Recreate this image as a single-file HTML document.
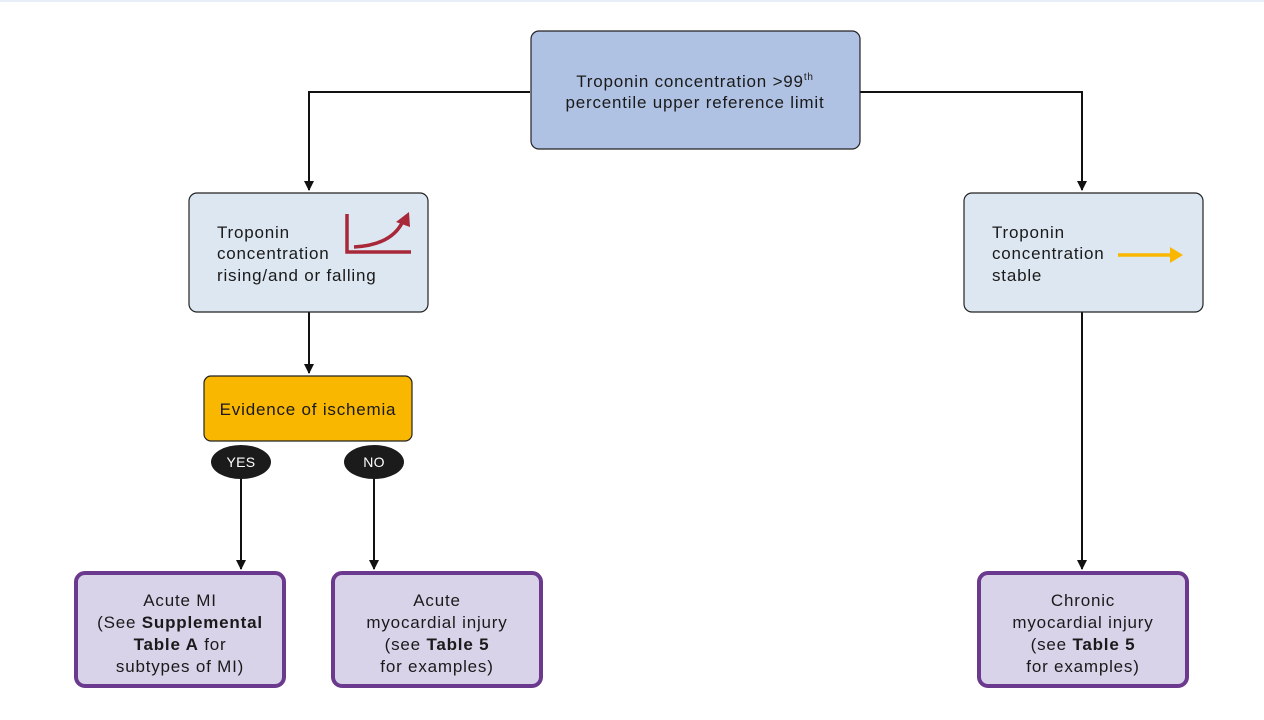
<!DOCTYPE html>
<html><head><meta charset="utf-8"><style>
html,body{margin:0;padding:0;background:#fff;}
svg{display:block;}
text{font-family:"Liberation Sans",sans-serif;font-size:17px;letter-spacing:0.8px;fill:#1a1a1a;}
</style></head><body>
<svg width="1264" height="720" viewBox="0 0 1264 720" xmlns="http://www.w3.org/2000/svg">
<defs><marker id="a" viewBox="0 0 10 10" refX="9" refY="5" markerWidth="5" markerHeight="5" orient="auto"><path d="M0,0L10,5L0,10z" fill="#111"/></marker></defs>
<rect x="0" y="0" width="1264" height="2" fill="#e8eef5"/>
<g stroke="#111" stroke-width="2" fill="none">
<path d="M530,92H309V190" marker-end="url(#a)"/>
<path d="M860,92H1082V190" marker-end="url(#a)"/>
<path d="M309,312V373" marker-end="url(#a)"/>
<path d="M241,470V569" marker-end="url(#a)"/>
<path d="M374,470V569" marker-end="url(#a)"/>
<path d="M1082,312V569" marker-end="url(#a)"/>
</g>
<rect x="531" y="31" width="329" height="118" rx="8" fill="#b0c2e3" stroke="#222" stroke-width="1.2"/>
<text x="695" y="87" text-anchor="middle">Troponin concentration &gt;99<tspan font-size="10" dy="-7">th</tspan></text>
<text x="695" y="108" text-anchor="middle">percentile upper reference limit</text>

<rect x="189" y="193" width="239" height="119" rx="8" fill="#dde7f1" stroke="#222" stroke-width="1.2"/>
<text x="217" y="238">Troponin</text>
<text x="217" y="259">concentration</text>
<text x="217" y="281">rising/and or falling</text>
<path d="M347,214V252H411" stroke="#a8283a" stroke-width="3.5" fill="none"/>
<path d="M354,247Q392,245 403,221" stroke="#a8283a" stroke-width="3.5" fill="none"/>
<path d="M396,222L409,212L410,227z" fill="#a8283a"/>

<rect x="964" y="193" width="239" height="119" rx="8" fill="#dde7f1" stroke="#222" stroke-width="1.2"/>
<text x="992" y="238">Troponin</text>
<text x="992" y="259">concentration</text>
<text x="992" y="281">stable</text>
<path d="M1118,255H1172" stroke="#f9b700" stroke-width="3.5"/>
<path d="M1170,247L1183,255L1170,263z" fill="#f9b700"/>

<rect x="204" y="376" width="208" height="65" rx="7" fill="#f9b700" stroke="#222" stroke-width="1.2"/>
<text x="308" y="415" text-anchor="middle">Evidence of ischemia</text>
<ellipse cx="241" cy="462" rx="30" ry="17" fill="#1b1b1b"/>
<text x="241" y="467" text-anchor="middle" style="fill:#fff;font-size:14px;letter-spacing:0.3px">YES</text>
<ellipse cx="374" cy="462" rx="30" ry="17" fill="#1b1b1b"/>
<text x="374" y="467" text-anchor="middle" style="fill:#fff;font-size:14px;letter-spacing:0.3px">NO</text>

<g fill="#d9d3ea" stroke="#6b3a8e" stroke-width="4">
<rect x="76" y="573" width="208" height="113" rx="9"/>
<rect x="333" y="573" width="208" height="113" rx="9"/>
<rect x="979" y="573" width="208" height="113" rx="9"/>
</g>
<text x="180" y="606" text-anchor="middle">Acute MI</text>
<text x="180" y="628" text-anchor="middle">(See <tspan font-weight="bold">Supplemental</tspan></text>
<text x="180" y="650" text-anchor="middle"><tspan font-weight="bold">Table A</tspan> for</text>
<text x="180" y="672" text-anchor="middle">subtypes of MI)</text>
<text x="437" y="606" text-anchor="middle">Acute</text>
<text x="437" y="628" text-anchor="middle">myocardial injury</text>
<text x="437" y="650" text-anchor="middle">(see <tspan font-weight="bold">Table 5</tspan></text>
<text x="437" y="672" text-anchor="middle">for examples)</text>
<text x="1083" y="606" text-anchor="middle">Chronic</text>
<text x="1083" y="628" text-anchor="middle">myocardial injury</text>
<text x="1083" y="650" text-anchor="middle">(see <tspan font-weight="bold">Table 5</tspan></text>
<text x="1083" y="672" text-anchor="middle">for examples)</text>
</svg>
</body></html>
